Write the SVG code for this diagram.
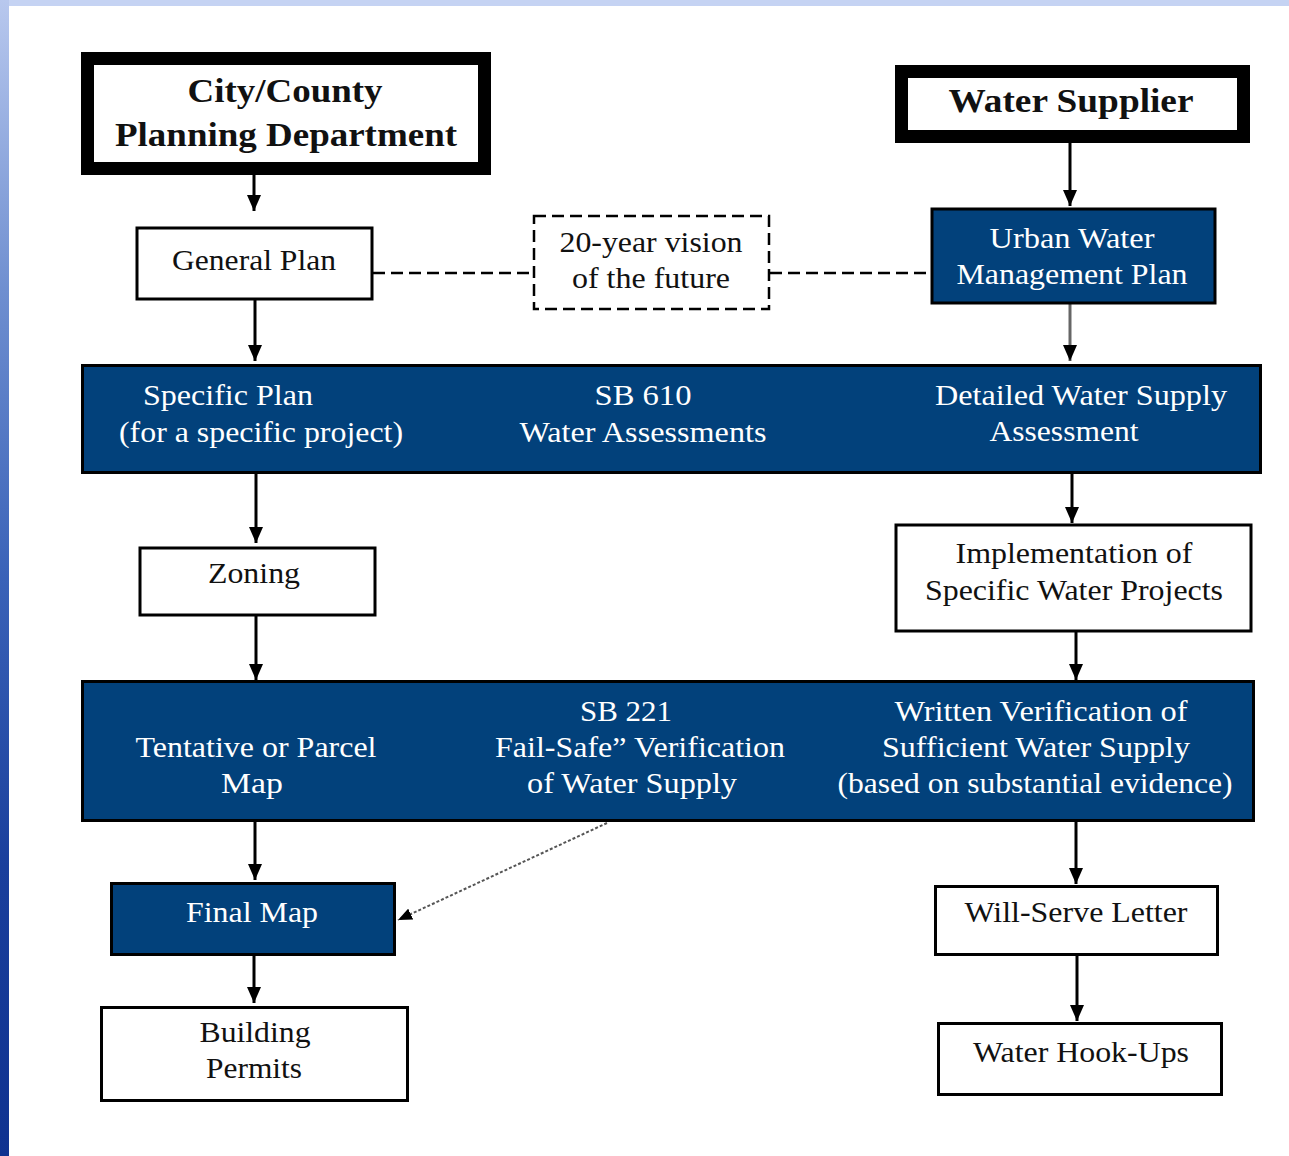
<svg xmlns="http://www.w3.org/2000/svg" width="1289" height="1156" viewBox="0 0 1289 1156">
<defs>
<linearGradient id="side" x1="0" y1="0" x2="0" y2="1">
<stop offset="0" stop-color="#b8c8ee"/>
<stop offset="0.25" stop-color="#6f8fd0"/>
<stop offset="0.5" stop-color="#3a62b8"/>
<stop offset="0.75" stop-color="#1a3f9c"/>
<stop offset="1" stop-color="#0f3290"/>
</linearGradient>
<marker id="ah" viewBox="0 0 16 14" refX="16" refY="7" markerWidth="16" markerHeight="14" markerUnits="userSpaceOnUse" orient="auto">
<path d="M0,0 L16,7 L0,14 z" fill="#000"/>
</marker>
<marker id="ahs" viewBox="0 0 14 12" refX="14" refY="6" markerWidth="14" markerHeight="12" markerUnits="userSpaceOnUse" orient="auto">
<path d="M0,0 L14,6 L0,12 z" fill="#000"/>
</marker>
</defs>
<style>
text{font-family:'Liberation Serif',serif;font-size:30px;text-anchor:middle;fill:#111}
.w{fill:#fff}
.h{font-size:34px;font-weight:bold}
.box{fill:#fff;stroke:#000;stroke-width:3}
.blue{fill:#02417b;stroke:#000;stroke-width:3}
.thick{fill:#fff;stroke:#000;stroke-width:13}
.ln{stroke:#000;stroke-width:3;fill:none}
.dash{stroke:#000;stroke-width:2.5;fill:none;stroke-dasharray:12,6}
</style>
<rect x="0" y="0" width="1289" height="1156" fill="#fff"/>
<rect x="0" y="0" width="1289" height="6" fill="#c5d3f3"/>
<rect x="0" y="0" width="9" height="1156" fill="url(#side)"/>

<g id="connectors">
<line class="ln" x1="254" y1="175" x2="254" y2="211" marker-end="url(#ah)"/>
<line class="ln" x1="1070" y1="143" x2="1070" y2="206" marker-end="url(#ah)"/>
<line class="ln" x1="255" y1="300" x2="255" y2="361" marker-end="url(#ah)"/>
<line x1="1070" y1="304" x2="1070" y2="361" stroke="#666" stroke-width="3" marker-end="url(#ah)"/>
<line class="ln" x1="256" y1="474" x2="256" y2="543" marker-end="url(#ah)"/>
<line class="ln" x1="1072" y1="474" x2="1072" y2="523" marker-end="url(#ah)"/>
<line class="ln" x1="256" y1="616" x2="256" y2="680" marker-end="url(#ah)"/>
<line class="ln" x1="1076" y1="632" x2="1076" y2="680" marker-end="url(#ah)"/>
<line class="ln" x1="255" y1="822" x2="255" y2="880" marker-end="url(#ah)"/>
<line class="ln" x1="1076" y1="822" x2="1076" y2="884" marker-end="url(#ah)"/>
<line class="ln" x1="254" y1="955" x2="254" y2="1003" marker-end="url(#ah)"/>
<line class="ln" x1="1077" y1="955" x2="1077" y2="1021" marker-end="url(#ah)"/>
<line x1="607" y1="823" x2="398" y2="920" stroke="#555" stroke-width="2" stroke-dasharray="3,2" marker-end="url(#ahs)"/>
<line class="dash" x1="373" y1="273" x2="533" y2="273"/>
<line class="dash" x1="770" y1="273" x2="931" y2="273"/>
</g>

<g id="city">
<rect class="thick" x="87.5" y="58.5" width="397" height="110"/>
<text class="h" x="285" y="102" textLength="195" lengthAdjust="spacingAndGlyphs">City/County</text>
<text class="h" x="286" y="146" textLength="342" lengthAdjust="spacingAndGlyphs">Planning Department</text>
</g>

<g id="supplier">
<rect class="thick" x="901.5" y="71.5" width="342" height="65"/>
<text class="h" x="1071" y="112" textLength="245" lengthAdjust="spacingAndGlyphs">Water Supplier</text>
</g>

<g id="general">
<rect class="box" x="137" y="228" width="235" height="71"/>
<text x="254" y="270" textLength="164" lengthAdjust="spacingAndGlyphs">General Plan</text>
</g>

<g id="vision">
<rect x="534" y="216" width="235" height="93" fill="#fff" stroke="#000" stroke-width="2.5" stroke-dasharray="12,6"/>
<text x="651" y="252" textLength="183" lengthAdjust="spacingAndGlyphs">20-year vision</text>
<text x="651" y="288" textLength="158" lengthAdjust="spacingAndGlyphs">of the future</text>
</g>

<g id="uwmp">
<rect class="blue" x="932" y="209" width="283" height="94"/>
<text class="w" x="1072" y="248" textLength="165" lengthAdjust="spacingAndGlyphs">Urban Water</text>
<text class="w" x="1072" y="284" textLength="231" lengthAdjust="spacingAndGlyphs">Management Plan</text>
</g>

<g id="bar1">
<rect class="blue" x="82.5" y="365.5" width="1178" height="107"/>
<text class="w" x="228" y="405" textLength="170" lengthAdjust="spacingAndGlyphs">Specific Plan</text>
<text class="w" x="261" y="442" textLength="284" lengthAdjust="spacingAndGlyphs">(for a specific project)</text>
<text class="w" x="643" y="405" textLength="97" lengthAdjust="spacingAndGlyphs">SB 610</text>
<text class="w" x="643" y="442" textLength="247" lengthAdjust="spacingAndGlyphs">Water Assessments</text>
<text class="w" x="1081" y="405" textLength="292" lengthAdjust="spacingAndGlyphs">Detailed Water Supply</text>
<text class="w" x="1064" y="441" textLength="149" lengthAdjust="spacingAndGlyphs">Assessment</text>
</g>

<g id="zoning">
<rect class="box" x="140" y="548" width="235" height="67"/>
<text x="254" y="583" textLength="92" lengthAdjust="spacingAndGlyphs">Zoning</text>
</g>

<g id="implementation">
<rect class="box" x="896" y="525" width="355" height="106"/>
<text x="1074" y="563" textLength="237" lengthAdjust="spacingAndGlyphs">Implementation of</text>
<text x="1074" y="600" textLength="298" lengthAdjust="spacingAndGlyphs">Specific Water Projects</text>
</g>

<g id="bar2">
<rect class="blue" x="82.5" y="681.5" width="1171" height="139"/>
<text class="w" x="256" y="757" textLength="241" lengthAdjust="spacingAndGlyphs">Tentative or Parcel</text>
<text class="w" x="252" y="793" textLength="62" lengthAdjust="spacingAndGlyphs">Map</text>
<text class="w" x="626" y="721" textLength="92" lengthAdjust="spacingAndGlyphs">SB 221</text>
<text class="w" x="640" y="757" textLength="290" lengthAdjust="spacingAndGlyphs">Fail-Safe” Verification</text>
<text class="w" x="632" y="793" textLength="210" lengthAdjust="spacingAndGlyphs">of Water Supply</text>
<text class="w" x="1041" y="721" textLength="293" lengthAdjust="spacingAndGlyphs">Written Verification of</text>
<text class="w" x="1036" y="757" textLength="308" lengthAdjust="spacingAndGlyphs">Sufficient Water Supply</text>
<text class="w" x="1035" y="793" textLength="395" lengthAdjust="spacingAndGlyphs">(based on substantial evidence)</text>
</g>

<g id="finalmap">
<rect class="blue" x="111.5" y="883.5" width="283" height="71"/>
<text class="w" x="252" y="922" textLength="132" lengthAdjust="spacingAndGlyphs">Final Map</text>
</g>

<g id="building">
<rect class="box" x="101.5" y="1007.5" width="306" height="93"/>
<text x="255" y="1042" textLength="111" lengthAdjust="spacingAndGlyphs">Building</text>
<text x="254" y="1078" textLength="96" lengthAdjust="spacingAndGlyphs">Permits</text>
</g>

<g id="willserve">
<rect class="box" x="935.5" y="886.5" width="282" height="68"/>
<text x="1076" y="922" textLength="223" lengthAdjust="spacingAndGlyphs">Will-Serve Letter</text>
</g>

<g id="hookups">
<rect class="box" x="938.5" y="1023.5" width="283" height="71"/>
<text x="1081" y="1062" textLength="216" lengthAdjust="spacingAndGlyphs">Water Hook-Ups</text>
</g>
</svg>
